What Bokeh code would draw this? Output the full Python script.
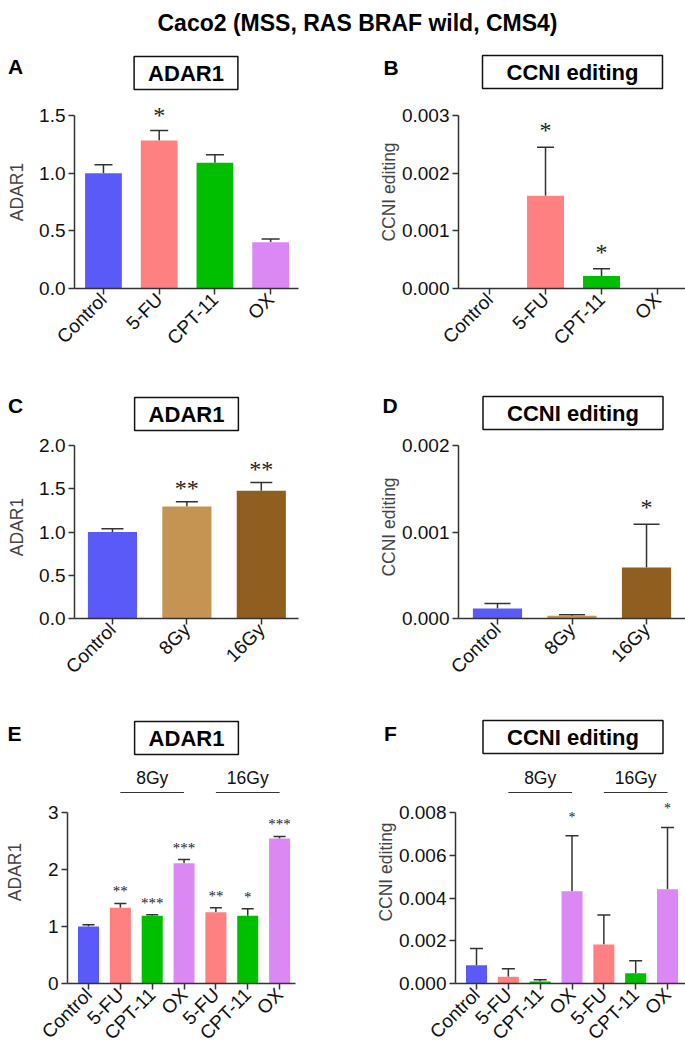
import numpy as np
from bokeh.plotting import figure
from bokeh.models import (Range1d, FixedTicker, NumeralTickFormatter, ColumnDataSource,
                          Whisker, TeeHead, LabelSet, Label, Arrow)
from bokeh.layouts import column, row
from bokeh.embed import file_html
from bokeh.resources import INLINE

FONT = "Liberation Sans"
INK = "#333333"
W = 685

# ---------------- data ----------------
main_title = "Caco2 (MSS, RAS BRAF wild, CMS4)"

a_cats = ["Control", "5-FU", "CPT-11", "OX"]
a_mean = [1.00, 1.284, 1.09, 0.40]
a_err = [0.073, 0.086, 0.07, 0.03]
a_sig = ["", "*", "", ""]
a_yticks = [0.0, 0.5, 1.0, 1.5]

b_cats = ["Control", "5-FU", "CPT-11", "OX"]
b_mean = [0.0, 0.00161, 0.000215, 0.0]
b_err = [0.0, 0.00084, 0.000127, 0.0]
b_sig = ["", "*", "*", ""]
b_yticks = [0.0, 0.001, 0.002, 0.003]

c_cats = ["Control", "8Gy", "16Gy"]
c_mean = [1.00, 1.295, 1.476]
c_err = [0.037, 0.054, 0.096]
c_sig = ["", "**", "**"]
c_yticks = [0.0, 0.5, 1.0, 1.5, 2.0]

d_cats = ["Control", "8Gy", "16Gy"]
d_mean = [0.000116, 0.000031, 0.00059]
d_err = [0.000057, 0.000011, 0.0005]
d_sig = ["", "", "*"]
d_yticks = [0.0, 0.001, 0.002]

e_cats = ["Control", "5-FU", "CPT-11", "OX", "5-FU", "CPT-11", "OX"]
e_dose = ["", "8Gy", "8Gy", "8Gy", "16Gy", "16Gy", "16Gy"]
e_mean = [1.0, 1.327, 1.187, 2.111, 1.251, 1.187, 2.544]
e_err = [0.03, 0.077, 0.018, 0.064, 0.076, 0.123, 0.035]
e_sig = ["", "**", "***", "***", "**", "*", "***"]
e_yticks = [0, 1, 2, 3]

f_cats = ["Control", "5-FU", "CPT-11", "OX", "5-FU", "CPT-11", "OX"]
f_dose = ["", "8Gy", "8Gy", "8Gy", "16Gy", "16Gy", "16Gy"]
f_mean = [0.000858, 0.000312, 0.0000936, 0.00432, 0.001825, 0.000483, 0.00441]
f_err = [0.000779, 0.000374, 0.0000784, 0.00259, 0.001375, 0.000577, 0.00289]
f_sig = ["", "", "", "*", "", "", "*"]
f_yticks = [0.0, 0.002, 0.004, 0.006, 0.008]

# ---------------- style ----------------
COLORS = {"Control": "#5A5AF8", "5-FU": "#FF8080", "CPT-11": "#00BF00",
          "OX": "#DC88F4", "8Gy": "#C59352", "16Gy": "#905F1F"}


def panel(cats, mean, err, sig, yticks, fmt, ylabel, g, dose=None):
    n = len(cats)
    ytop = yticks[-1]
    yend = ytop * g["fh"] / g["th"]   # frame extends above the top tick for stars/brackets
    p = figure(width=g["w"], height=g["h"],
               x_range=Range1d(g["xs"], g["xe"]), y_range=Range1d(yticks[0], yend),
               min_border_left=g["l"], min_border_right=g["r"],
               min_border_top=0, min_border_bottom=g["b"],
               output_backend="svg", toolbar_location=None)
    p.outline_line_color = None
    p.xgrid.visible = False
    p.ygrid.visible = False
    p.background_fill_color = "white"
    p.border_fill_color = "white"

    xs = list(range(n))
    upper = [m + e for m, e in zip(mean, err)]
    src = ColumnDataSource(dict(x=xs, top=mean, upper=upper, sig=sig,
                                color=[COLORS[c] for c in cats]))
    p.vbar(x="x", top="top", bottom=0, width=0.66, source=src,
           fill_color="color", line_color=None)

    keep = [i for i in range(n) if err[i] > 0]
    wsrc = ColumnDataSource(dict(x=[xs[i] for i in keep], lo=[mean[i] for i in keep],
                                 hi=[upper[i] for i in keep]))
    p.add_layout(Whisker(source=wsrc, base="x", lower="lo", upper="hi", dimension="height",
                         line_color=INK, line_width=1.5, lower_head=None,
                         upper_head=TeeHead(size=g["cap"], line_color=INK, line_width=1.5)))

    p.add_layout(LabelSet(source=src, x="x", y="upper", text="sig", text_align="center",
                          text_baseline="alphabetic", y_offset=g["so"],
                          text_font=FONT, text_font_size=g["sf"], text_color="#222222"))

    for ax in (p.xaxis, p.yaxis):
        ax.axis_line_color = INK
        ax.axis_line_width = 1.5
        ax.major_tick_line_color = INK
        ax.major_tick_line_width = 1.5
        ax.major_tick_in = 0
        ax.major_tick_out = 6
        ax.minor_tick_line_color = None
        ax.major_label_text_font = FONT
        ax.major_label_text_color = "#111111"
        ax.axis_label_text_font = FONT

    p.xaxis.ticker = FixedTicker(ticks=xs)
    p.xaxis.major_label_overrides = {i: c for i, c in enumerate(cats)}
    p.xaxis.major_label_orientation = np.pi / 4
    p.xaxis.major_label_text_font_size = "19px"
    p.xaxis.major_label_standoff = 2

    p.yaxis.bounds = (yticks[0], ytop)
    p.yaxis.ticker = FixedTicker(ticks=yticks)
    p.yaxis.formatter = NumeralTickFormatter(format=fmt)
    p.yaxis.major_label_text_font_size = "19px"
    p.yaxis.major_label_standoff = 3
    p.yaxis.axis_label = ylabel
    p.yaxis.axis_label_text_font_size = "17.5px"
    p.yaxis.axis_label_text_font_style = "normal"
    p.yaxis.axis_label_standoff = g["ls"]

    if dose is not None:
        gy = ytop * (1 + 20.0 / g["th"])
        for grp in [d for d in dict.fromkeys(dose) if d]:
            idx = [i for i, d in enumerate(dose) if d == grp]
            x0, x1 = idx[0], idx[-1]
            p.add_layout(Arrow(start=None, end=None, x_start=x0, y_start=gy, x_end=x1, y_end=gy,
                               line_color=INK, line_width=1.2))
            p.add_layout(Label(x=(x0 + x1) / 2, y=gy, y_offset=15, text=grp, text_align="center",
                               text_baseline="alphabetic", text_font=FONT, text_font_size="17.5px",
                               text_color="#111111"))
    return p


def header(h, items, title=None):
    # positions below are given as distances from the top of this strip
    p = figure(width=W, height=h, x_range=Range1d(0, W), y_range=Range1d(0, h),
               x_axis_type=None, y_axis_type=None, min_border=0,
               output_backend="svg", toolbar_location=None)
    p.outline_line_color = None
    p.xgrid.visible = False
    p.ygrid.visible = False
    if title is not None:
        p.add_layout(Label(x=title[1], y=h - title[2], text=title[0], text_align="center",
                           text_baseline="alphabetic", text_font=FONT, text_font_size="23px",
                           text_font_style="bold", text_color="black"))
    for letter, lx, ly, head, hx, hy, pad in items:
        p.add_layout(Label(x=lx, y=h - ly, text=letter, text_align="center",
                           text_baseline="middle", text_font=FONT, text_font_size="21px",
                           text_font_style="bold", text_color="black"))
        p.add_layout(Label(x=hx, y=h - hy, text=head, text_align="center",
                           text_baseline="middle", text_font=FONT, text_font_size="22px",
                           text_font_style="bold", text_color="black",
                           border_line_color="#111111", border_line_width=1.5,
                           background_fill_color="white", padding=pad))
    return p


# geometry (pixels): fh = frame height, th = height of the tick range inside the frame
GA = dict(w=342, h=275, l=74, r=44, b=82, fh=193, th=173, xs=-0.52, xe=3.50,
          cap=18, so=7, sf="24px", ls=9)
GB = dict(w=343, h=275, l=116, r=0, b=82, fh=193, th=173, xs=-0.554, xe=3.50,
          cap=17, so=9, sf="24px", ls=0)
GC = dict(w=342, h=265, l=74, r=44, b=82, fh=183, th=173, xs=-0.51, xe=2.50,
          cap=22, so=6, sf="24px", ls=9)
GD = dict(w=343, h=265, l=116, r=0, b=82, fh=183, th=173, xs=-0.523, xe=2.523,
          cap=26, so=9, sf="24px", ls=0)
GE = dict(w=342, h=298, l=67, r=47, b=75, fh=223, th=171, xs=-0.66, xe=6.50,
          cap=12, so=7, sf="15px", ls=20)
GF = dict(w=343, h=298, l=113, r=0, b=75, fh=223, th=171, xs=-0.66, xe=6.565,
          cap=13, so=14, sf="14px", ls=0)

pa = panel(a_cats, a_mean, a_err, a_sig, a_yticks, "0.0", "ADAR1", GA)
pb = panel(b_cats, b_mean, b_err, b_sig, b_yticks, "0.000", "CCNI editing", GB)
pc = panel(c_cats, c_mean, c_err, c_sig, c_yticks, "0.0", "ADAR1", GC)
pd = panel(d_cats, d_mean, d_err, d_sig, d_yticks, "0.000", "CCNI editing", GD)
pe = panel(e_cats, e_mean, e_err, e_sig, e_yticks, "0", "ADAR1", GE, dose=e_dose)
pf = panel(f_cats, f_mean, f_err, f_sig, f_yticks, "0.000", "CCNI editing", GF, dose=f_dose)

# padding for boxed headings: (horizontal, vertical)
h1 = header(95, [("A", 15, 65.5, "ADAR1", 185.5, 72.5, (14, 4)),
                 ("B", 390.5, 66.5, "CCNI editing", 572, 71.5, (24, 4))],
            title=(main_title, 357, 22))
h2 = header(65, [("C", 15, 34.5, "ADAR1", 186, 43.5, (14, 4)),
                 ("D", 389.5, 34.5, "CCNI editing", 572.5, 42.5, (24, 4))])
h3 = header(60, [("E", 14, 32.5, "ADAR1", 186, 37.5, (14, 4)),
                 ("F", 390, 32.5, "CCNI editing", 572.5, 36.5, (24, 4))])

layout = column(h1, row(pa, pb), h2, row(pc, pd), h3, row(pe, pf))
open("out.html", "w").write(file_html(layout, INLINE))
